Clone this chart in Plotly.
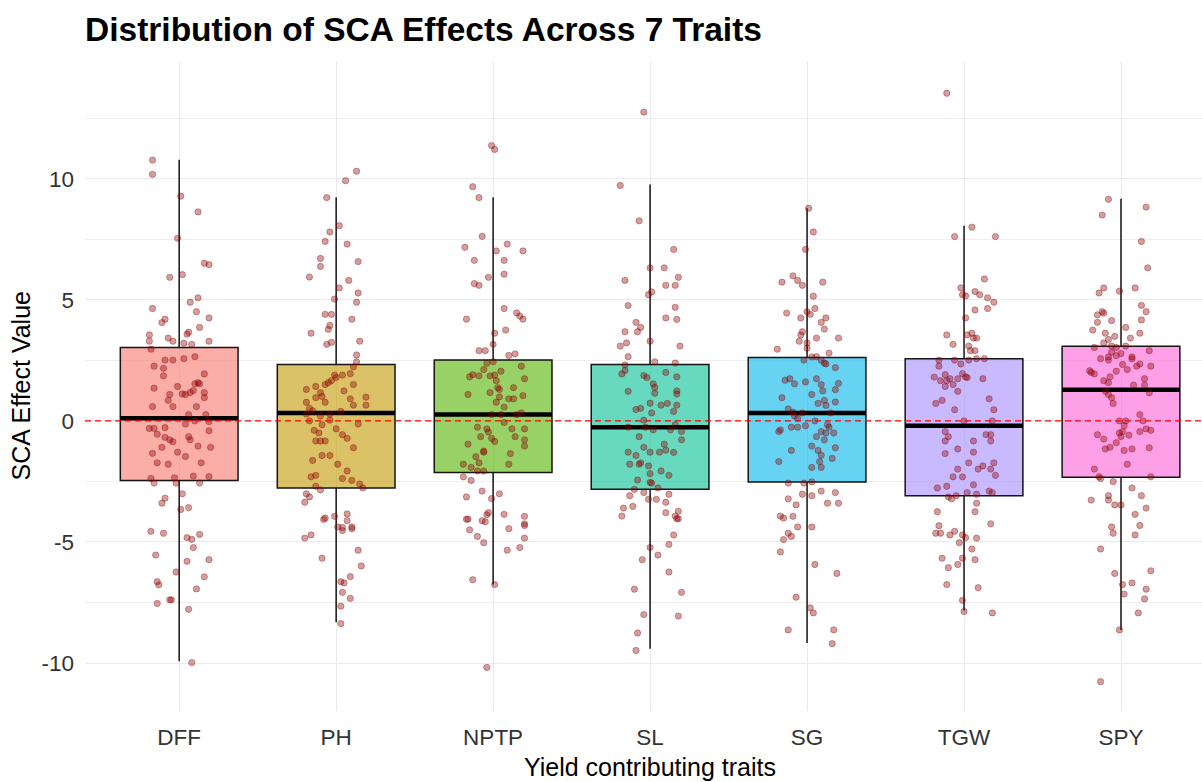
import plotly.graph_objects as go

traits = ["DFF", "PH", "NPTP", "SL", "SG", "TGW", "SPY"]
trait_colors = ["#F8766D", "#C49A00", "#53B400", "#00C094", "#00B6EB", "#A58AFF", "#FB61D7"]

# Box statistics
box_q1 = [-2.46, -2.77, -2.13, -2.82, -2.52, -3.09, -2.33]
box_median = [0.11, 0.33, 0.26, -0.26, 0.33, -0.20, 1.29]
box_q3 = [3.03, 2.33, 2.51, 2.33, 2.62, 2.57, 3.08]
box_lower = [-9.93, -8.32, -6.76, -9.41, -9.17, -7.83, -8.63]
box_upper = [10.78, 9.23, 9.23, 9.76, 8.78, 8.06, 9.17]

# Individual SCA effects (value, jitter offset)
DFF = [(10.77,-0.17),(10.18,-0.17),(9.28,0.01),(8.63,0.12),(7.54,-0.01),(6.51,0.16),(6.45,0.19),(5.93,-0.06),(6.04,0.02),(5.08,0.12),(4.90,0.07),(4.64,-0.17),(4.51,0.11),(4.20,-0.09),(4.06,-0.11),(4.25,0.19),(3.86,0.13),(3.66,0.06),(3.58,0.05),(3.55,-0.19),(3.29,-0.19),(3.42,-0.07),(3.29,-0.04),(3.21,0.03),(3.16,0.08),(3.29,0.19),(2.96,-0.18),(2.65,0.10),(2.57,0.03),(2.51,-0.04),(2.51,-0.09),(2.26,-0.16),(2.17,-0.10),(1.86,-0.10),(1.94,0.16),(1.35,-0.16),(1.42,-0.01),(1.53,0.10),(1.53,0.13),(1.58,0.12),(1.11,0.02),(1.09,0.04),(1.17,0.07),(1.25,0.09),(1.09,-0.06),(1.17,0.16),(0.96,0.16),(0.85,-0.07),(0.59,-0.17),(0.59,-0.04),(0.59,0.11),(0.26,0.06),(0.26,0.17),(-0.03,0.19),(0.0,0.10),(-0.13,0.04),(-0.28,-0.09),(-0.31,-0.19),(-0.31,-0.16),(-0.41,0.19),(-0.55,-0.14),(-0.68,-0.09),(-0.78,-0.06),(-0.86,-0.04),(-0.65,0.06),(-0.78,0.07),(-1.04,0.12),(-1.09,0.20),(-1.09,-0.11),(-1.29,-0.01),(-1.34,-0.17),(-1.47,0.04),(-1.73,-0.14),(-1.79,-0.07),(-1.73,0.14),(-2.38,-0.18),(-2.57,-0.16),(-2.35,-0.03),(-2.57,-0.02),(-2.28,0.09),(-2.57,0.13),(-2.30,0.19),(-3.01,0.02),(-3.19,-0.09),(-3.40,-0.11),(-3.66,0.01),(-3.58,0.06),(-4.56,-0.18),(-4.64,-0.10),(-4.82,0.05),(-4.89,0.08),(-4.69,0.13),(-5.23,0.09),(-5.54,-0.15),(-5.73,0.19),(-5.80,0.05),(-6.24,-0.02),(-6.44,0.16),(-6.64,-0.14),(-6.77,-0.13),(-6.94,0.11),(-7.54,-0.14),(-7.39,-0.06),(-7.39,-0.05),(-7.78,0.06),(-9.98,0.08)]

PH = [(10.31,0.13),(9.92,0.06),(9.22,-0.06),(8.06,0.02),(7.80,-0.04),(7.41,-0.07),(7.30,0.07),(6.71,-0.10),(6.58,0.14),(6.38,-0.10),(5.94,-0.17),(5.80,0.08),(5.49,0.02),(5.28,0.14),(5.03,-0.01),(4.90,0.13),(4.40,-0.07),(4.40,-0.03),(4.20,0.10),(3.94,-0.04),(3.78,-0.05),(3.62,-0.16),(3.29,0.15),(3.24,-0.03),(3.16,-0.06),(2.72,0.13),(2.44,0.13),(2.23,0.11),(1.95,0.09),(1.89,0.04),(1.79,0.0),(1.89,-0.01),(1.66,-0.03),(1.58,-0.05),(1.50,-0.07),(1.42,-0.13),(1.30,-0.19),(1.50,0.11),(1.24,0.05),(1.17,-0.10),(1.01,-0.09),(0.96,-0.13),(0.98,0.19),(0.91,0.09),(0.77,-0.07),(0.77,-0.19),(0.65,0.11),(0.65,0.19),(0.52,-0.17),(0.42,-0.15),(0.39,0.03),(0.28,-0.04),(0.28,-0.19),(0.20,-0.10),(0.03,-0.04),(0.0,-0.17),(-0.13,0.14),(-0.16,-0.09),(-0.33,0.0),(-0.39,-0.14),(-0.50,-0.11),(-0.57,0.04),(-0.72,0.07),(-0.83,-0.13),(-0.83,-0.10),(-0.83,-0.07),(-1.11,0.11),(-1.43,-0.09),(-1.43,-0.04),(-1.63,-0.15),(-1.79,0.01),(-2.07,0.07),(-2.25,-0.13),(-2.31,-0.16),(-2.38,0.04),(-2.46,0.10),(-2.61,0.15),(-2.77,0.17),(-2.70,-0.13),(-2.85,-0.10),(-3.01,-0.19),(-3.14,-0.17),(-3.36,-0.20),(-4.01,-0.07),(-4.07,-0.08),(-3.94,-0.01),(-3.84,0.07),(-4.12,0.07),(-4.38,0.01),(-4.40,0.04),(-4.53,0.04),(-4.38,0.10),(-4.45,0.10),(-4.84,-0.20),(-4.71,-0.16),(-5.34,0.14),(-5.67,-0.09),(-5.99,0.16),(-6.43,0.09),(-6.64,0.03),(-6.69,0.05),(-7.08,0.04),(-7.33,0.09),(-7.65,0.03),(-8.37,0.03)]

NPTP = [(11.37,-0.01),(11.21,0.01),(9.67,-0.13),(9.22,-0.09),(7.62,-0.07),(7.17,-0.18),(7.30,0.09),(7.02,0.02),(7.02,0.19),(6.63,-0.12),(6.63,0.07),(6.06,0.07),(5.93,-0.03),(5.67,-0.12),(5.60,-0.09),(4.64,0.07),(4.20,-0.17),(4.46,0.15),(4.33,0.17),(4.20,0.19),(3.75,0.08),(3.62,0.01),(3.16,0.0),(2.90,-0.09),(2.90,-0.05),(2.70,0.10),(2.77,0.14),(2.44,0.0),(2.38,-0.04),(2.26,0.18),(2.12,-0.06),(2.05,0.05),(1.91,-0.13),(1.82,-0.15),(1.86,-0.09),(1.86,-0.02),(1.89,0.01),(1.74,0.20),(1.66,0.02),(1.37,0.03),(1.30,0.04),(1.37,0.13),(1.17,-0.02),(1.09,-0.16),(1.04,0.19),(0.99,0.04),(0.91,0.10),(0.91,0.13),(0.77,0.02),(0.57,0.07),(0.26,-0.01),(0.26,0.05),(0.26,0.15),(0.33,0.18),(-0.07,0.07),(-0.26,-0.10),(-0.33,-0.04),(-0.46,-0.03),(-0.33,0.12),(-0.33,0.20),(-0.65,-0.08),(-0.72,-0.01),(-0.85,0.01),(-0.65,0.14),(-0.78,0.20),(-1.04,0.20),(-0.96,-0.16),(-1.25,-0.06),(-1.29,-0.06),(-1.35,0.11),(-1.48,-0.11),(-1.73,-0.09),(-1.79,-0.19),(-1.92,-0.14),(-1.79,0.10),(-2.07,-0.10),(-2.07,-0.06),(-2.31,-0.19),(-2.46,-0.14),(-2.90,-0.07),(-3.14,-0.17),(-3.21,-0.01),(-3.01,0.04),(-4.06,-0.17),(-4.06,-0.16),(-4.12,-0.07),(-4.17,-0.05),(-3.88,-0.04),(-3.79,-0.03),(-3.86,0.07),(-3.94,0.20),(-4.25,0.20),(-4.32,0.20),(-4.45,0.10),(-4.50,-0.15),(-4.77,-0.10),(-5.03,-0.06),(-4.84,0.20),(-5.23,0.17),(-5.34,0.09),(-6.56,-0.13),(-6.76,0.01),(-10.18,-0.04)]

SL = [(12.75,-0.04),(9.72,-0.19),(8.26,-0.07),(7.08,0.15),(6.32,0.0),(6.32,0.09),(5.93,0.18),(5.80,-0.16),(5.60,0.10),(5.60,0.16),(5.21,-0.01),(5.33,0.01),(4.76,-0.14),(4.69,0.16),(4.25,0.10),(4.19,0.17),(4.07,-0.09),(3.86,-0.06),(3.68,-0.16),(3.68,-0.08),(3.29,0.0),(3.09,-0.19),(3.22,-0.15),(3.09,0.19),(2.65,-0.14),(2.44,0.03),(2.39,0.16),(2.31,-0.16),(2.08,-0.16),(1.94,-0.18),(2.00,0.10),(1.87,-0.04),(1.79,-0.02),(1.82,0.17),(1.53,0.02),(1.38,0.03),(1.14,0.03),(1.22,-0.14),(1.24,0.17),(1.11,0.17),(0.73,0.0),(0.65,0.07),(0.72,0.11),(0.65,0.17),(0.47,-0.09),(0.52,-0.06),(0.39,0.15),(0.33,0.01),(0.03,-0.04),(-0.16,0.16),(-0.26,-0.14),(-0.26,-0.03),(-0.37,0.02),(-0.37,0.13),(-0.44,0.20),(-0.65,-0.07),(-0.78,0.20),(-1.09,-0.04),(-0.96,0.09),(-1.21,0.10),(-1.30,0.15),(-1.29,-0.14),(-1.29,0.0),(-1.29,0.06),(-1.43,-0.09),(-2.07,0.07),(-1.79,-0.13),(-1.79,-0.07),(-1.73,-0.06),(-1.86,-0.01),(-2.25,0.12),(-2.18,0.0),(-2.44,-0.08),(-2.54,0.0),(-2.57,0.01),(-2.77,0.05),(-2.83,-0.10),(-2.96,-0.04),(-3.09,-0.13),(-3.03,0.12),(-3.24,-0.01),(-3.24,0.04),(-3.36,0.10),(-3.53,-0.11),(-3.60,-0.17),(-3.93,-0.18),(-3.79,0.10),(-3.73,0.18),(-3.93,0.16),(-4.04,0.17),(-4.04,0.18),(-4.71,0.15),(-5.10,0.12),(-5.23,0.0),(-5.54,0.05),(-5.73,-0.05),(-6.24,0.12),(-6.95,-0.10),(-7.08,0.20),(-8.00,-0.04),(-8.06,0.18),(-8.76,-0.08),(-9.48,-0.09)]

SG = [(8.78,0.01),(7.80,0.04),(7.08,-0.01),(5.99,-0.09),(5.80,-0.06),(5.60,-0.03),(5.73,-0.16),(5.73,0.10),(5.15,0.04),(4.64,0.05),(4.51,0.0),(4.40,0.02),(4.45,-0.13),(4.25,-0.04),(4.25,0.12),(4.07,0.09),(3.79,0.11),(3.68,-0.03),(3.55,-0.04),(3.29,-0.05),(3.22,0.0),(3.42,0.06),(3.42,0.20),(3.00,0.0),(2.96,-0.19),(2.80,0.14),(2.64,0.03),(2.65,0.06),(2.51,-0.02),(2.51,0.09),(2.39,0.11),(2.35,0.12),(2.20,0.18),(1.68,-0.14),(1.74,-0.11),(1.53,-0.08),(1.61,-0.01),(1.74,0.06),(1.50,0.09),(1.55,0.20),(1.24,0.10),(1.29,0.18),(1.09,0.03),(0.96,-0.16),(0.85,0.11),(0.72,0.07),(0.78,0.18),(0.64,0.12),(0.49,-0.12),(0.36,-0.09),(0.33,-0.03),(0.33,0.15),(0.20,-0.08),(0.10,-0.06),(0.0,0.05),(-0.16,0.13),(-0.26,-0.10),(-0.26,-0.06),(-0.20,-0.01),(-0.26,0.14),(-0.37,-0.17),(-0.44,-0.18),(-0.44,0.09),(-0.50,0.12),(-0.50,0.17),(-0.65,0.06),(-0.78,0.11),(-1.04,0.03),(-1.11,0.18),(-1.22,-0.10),(-1.22,0.07),(-1.42,0.09),(-1.68,0.08),(-1.55,0.16),(-1.68,-0.18),(-1.92,0.03),(-1.92,0.09),(-2.57,-0.12),(-2.57,-0.02),(-2.52,0.03),(-2.90,0.09),(-3.03,-0.03),(-3.09,0.03),(-2.96,0.18),(-3.22,-0.12),(-3.47,-0.07),(-3.40,0.13),(-3.40,0.20),(-3.93,-0.17),(-4.01,-0.15),(-3.94,-0.09),(-4.38,-0.06),(-4.38,0.03),(-4.64,-0.12),(-4.77,-0.10),(-4.90,-0.15),(-5.41,-0.17),(-5.93,0.05),(-6.30,0.19),(-7.28,-0.07),(-7.72,0.02),(-7.93,0.04),(-8.63,-0.12),(-8.63,0.17),(-9.20,0.16)]

TGW = [(13.53,-0.11),(8.00,0.05),(7.61,-0.06),(7.61,0.20),(5.86,0.13),(5.49,-0.02),(5.21,-0.01),(5.16,0.01),(5.34,0.07),(5.21,0.10),(5.08,0.15),(4.90,0.19),(4.64,0.15),(4.58,0.07),(4.25,0.01),(3.55,-0.11),(3.62,0.05),(3.55,0.02),(3.42,0.06),(3.42,0.08),(3.16,-0.07),(3.09,0.03),(2.90,0.04),(2.90,0.07),(2.51,-0.16),(2.51,-0.06),(2.51,0.03),(2.57,0.08),(2.57,0.13),(2.26,-0.16),(2.35,-0.02),(1.95,-0.01),(1.82,0.01),(1.79,0.02),(1.81,-0.19),(1.91,-0.12),(1.66,-0.15),(1.66,-0.11),(1.74,-0.09),(1.74,-0.04),(1.74,0.12),(1.42,-0.12),(1.50,-0.07),(1.22,-0.04),(0.72,-0.18),(0.85,-0.14),(0.91,0.16),(0.46,-0.06),(0.46,0.19),(0.0,0.0),(0.0,0.18),(-0.44,-0.12),(-0.65,-0.10),(-0.83,-0.12),(-0.57,0.14),(-0.57,0.17),(-0.83,0.17),(-0.83,0.06),(-1.16,-0.04),(-1.35,-0.12),(-1.29,0.06),(-1.73,0.03),(-1.73,0.19),(-1.99,0.09),(-1.86,0.12),(-1.99,0.17),(-2.25,0.20),(-1.99,-0.04),(-2.31,-0.07),(-2.31,-0.01),(-2.70,-0.11),(-2.77,-0.17),(-2.64,0.06),(-2.96,0.02),(-3.03,0.08),(-2.90,0.16),(-2.96,0.18),(-3.14,-0.10),(-3.22,-0.08),(-3.09,-0.05),(-3.40,0.08),(-3.75,0.07),(-3.75,-0.17),(-4.25,0.17),(-4.33,-0.16),(-4.64,-0.18),(-4.64,-0.15),(-4.71,-0.09),(-4.56,-0.06),(-4.71,-0.01),(-4.82,0.01),(-5.03,-0.03),(-4.84,0.08),(-5.29,0.05),(-5.67,-0.14),(-5.67,-0.01),(-5.93,-0.04),(-6.06,-0.10),(-5.73,0.07),(-6.76,-0.11),(-6.89,0.09),(-7.41,-0.01),(-7.87,0.0),(-7.93,0.18)]

SPY = [(9.15,-0.08),(8.50,-0.12),(8.83,0.16),(7.41,0.13),(6.32,0.17),(5.49,-0.11),(5.28,-0.14),(5.36,-0.01),(5.49,0.09),(4.77,0.13),(4.51,0.16),(4.51,-0.12),(4.45,-0.11),(4.38,-0.15),(4.14,-0.06),(4.07,-0.15),(4.17,0.13),(3.75,-0.18),(3.86,0.03),(3.62,-0.10),(3.62,0.12),(3.49,-0.04),(3.36,-0.08),(3.42,0.06),(3.22,-0.11),(3.03,-0.17),(3.09,-0.06),(3.03,-0.03),(3.09,0.03),(2.83,-0.06),(2.64,-0.08),(2.90,0.18),(2.57,-0.13),(2.69,-0.03),(2.78,0.0),(2.64,0.07),(2.56,0.07),(2.51,-0.08),(2.33,0.01),(2.35,0.12),(2.26,0.10),(2.26,0.19),(2.12,0.04),(2.07,-0.20),(1.94,-0.17),(2.00,-0.19),(2.05,-0.03),(1.82,-0.07),(1.66,-0.11),(1.58,-0.08),(1.74,0.15),(1.48,0.08),(1.48,0.15),(1.22,-0.10),(1.09,-0.08),(0.96,-0.06),(1.16,0.18),(0.72,-0.05),(0.26,0.12),(0.0,-0.01),(0.0,0.03),(0.0,0.14),(-0.20,0.02),(-0.33,0.16),(-0.39,0.19),(-0.44,0.12),(-0.44,0.01),(-0.50,-0.01),(-0.59,0.05),(-0.57,-0.15),(-0.75,-0.11),(-0.65,0.0),(-0.90,-0.03),(-1.09,-0.07),(-1.16,-0.10),(-1.22,0.02),(-1.16,0.07),(-1.11,0.18),(-1.79,0.04),(-1.99,-0.17),(-2.31,-0.14),(-2.38,-0.13),(-2.31,0.19),(-2.51,-0.05),(-2.77,0.07),(-3.09,0.13),(-3.09,-0.08),(-3.27,-0.08),(-3.27,-0.19),(-3.47,-0.04),(-3.47,0.0),(-3.60,0.16),(-3.86,0.09),(-4.38,-0.06),(-4.32,0.12),(-4.64,-0.05),(-4.71,0.09),(-5.29,-0.13),(-6.30,-0.04),(-6.19,0.19),(-6.76,0.01),(-6.69,0.07),(-7.15,0.02),(-6.95,0.16),(-7.35,0.15),(-7.93,0.11),(-8.63,-0.01),(-10.77,-0.13)]

points_by_trait = [DFF, PH, NPTP, SL, SG, TGW, SPY]

y_tickvals = [-10, -5, 0, 5, 10]
y_ticktext = ["-10", "-5", "0", "5", "10"]
y_minor = [-7.5, -2.5, 2.5, 7.5, 12.5]


def rgba(hex_color, a):
    h = hex_color.lstrip("#")
    r, g, b = int(h[0:2], 16), int(h[2:4], 16), int(h[4:6], 16)
    return f"rgba({r},{g},{b},{a})"


BOX_W = 0.75
fig = go.Figure()

for i, t in enumerate(traits):
    fig.add_trace(go.Box(
        x=[i], q1=[box_q1[i]], median=[box_median[i]], q3=[box_q3[i]],
        lowerfence=[box_lower[i]], upperfence=[box_upper[i]],
        orientation="v", width=BOX_W, whiskerwidth=0, boxpoints=False,
        fillcolor=rgba(trait_colors[i], 0.6),
        line=dict(color="#151515", width=1.5),
        showlegend=False, hoverinfo="skip", name=t,
    ))
    fig.add_trace(go.Scatter(
        x=[i - BOX_W / 2, i + BOX_W / 2], y=[box_median[i], box_median[i]],
        mode="lines", line=dict(color="black", width=4.5),
        showlegend=False, hoverinfo="skip",
    ))

for i, pts in enumerate(points_by_trait):
    fig.add_trace(go.Scatter(
        x=[i + p[1] for p in pts], y=[p[0] for p in pts],
        mode="markers",
        marker=dict(size=6.3, color="rgba(139,0,0,0.38)",
                    line=dict(color="rgba(139,0,0,0.38)", width=0.9)),
        showlegend=False, hoverinfo="skip",
    ))

fig.add_shape(type="line", xref="paper", x0=0, x1=1, yref="y", y0=0, y1=0,
              line=dict(color="red", width=1.3, dash="6px,4px"), layer="above")

FONT = "Liberation Sans, Arial, sans-serif"
W, H = 1202, 782
ML, MR, MT, MB = 85, 0, 62, 71

fig.update_layout(
    width=W, height=H,
    margin=dict(l=ML, r=MR, t=MT, b=MB, autoexpand=False),
    plot_bgcolor="white", paper_bgcolor="white",
    font=dict(family=FONT, color="#333333"),
    title=dict(text="<b>Distribution of SCA Effects Across 7 Traits</b>",
               xref="container", x=ML / W, xanchor="left",
               yref="container", y=1 - 29 / H, yanchor="middle",
               font=dict(size=33.5, color="black", family=FONT)),
    xaxis=dict(range=[-0.6, 6.516], tickmode="array", tickvals=list(range(len(traits))),
               ticktext=traits, showgrid=True, gridcolor="#EBEBEB", gridwidth=1.1,
               zeroline=False, showline=False, ticks="",
               tickfont=dict(size=22.5, color="#333333"), ticklabelstandoff=10),
    yaxis=dict(range=[-11.98, 14.82], tickmode="array", tickvals=y_tickvals,
               ticktext=y_ticktext, showgrid=True, gridcolor="#EBEBEB", gridwidth=1.1,
               minor=dict(tickmode="array", tickvals=y_minor, showgrid=True,
                          gridcolor="#EFEFEF", gridwidth=0.9, ticks=""),
               zeroline=False, showline=False, ticks="",
               tickfont=dict(size=22.5, color="#333333"), ticklabelstandoff=10),
    annotations=[
        dict(text="Yield contributing traits", xref="paper", yref="paper",
             x=(650 - ML) / (W - ML - MR), y=-(767 - (H - MB)) / (H - MT - MB),
             xanchor="center", yanchor="middle", showarrow=False,
             font=dict(size=25, color="black", family=FONT)),
        dict(text="SCA Effect Value", xref="paper", yref="paper",
             x=-(ML - 20) / (W - ML - MR), y=0.5, textangle=-90,
             xanchor="center", yanchor="middle", showarrow=False,
             font=dict(size=25, color="black", family=FONT)),
    ],
)

fig.write_html("out.html",
               config={"displayModeBar": False},
               post_script="document.body.style.margin='0';document.body.style.overflow='hidden';")
